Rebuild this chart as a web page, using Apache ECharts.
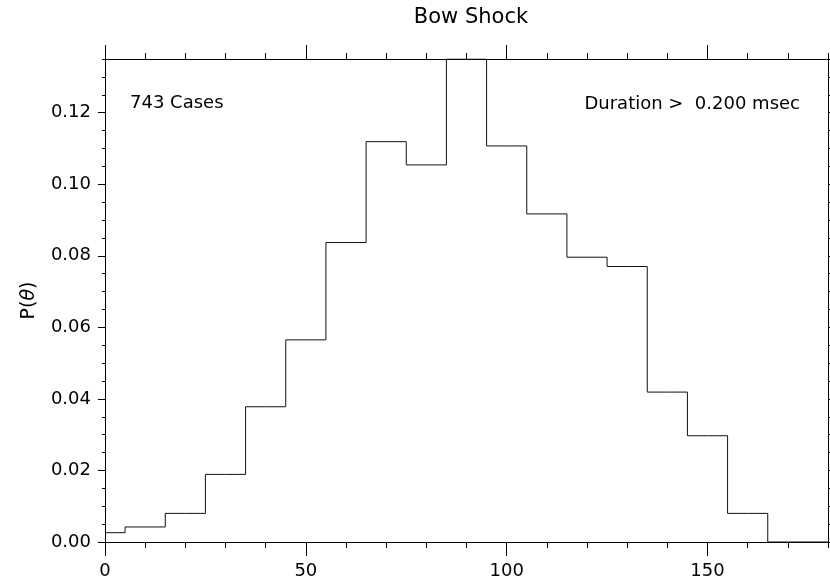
<!DOCTYPE html>
<html>
<head>
<meta charset="utf-8">
<script src="https://cdn.jsdelivr.net/npm/echarts@6/dist/echarts.min.js"></script>
<style>
  html, body { margin: 0; padding: 0; background: #fff; }
  #chart { width: 830px; height: 580px; }
</style>
</head>
<body>
<div id="chart"></div>
<script>
// bin centres (deg) and probability per bin
var angles = [0, 10, 20, 30, 40, 50, 60, 70, 80, 90, 100, 110, 120, 130, 140, 150, 160, 170, 180];
var probs = [0.0026, 0.0042, 0.0080, 0.0189, 0.0378, 0.0565, 0.0837, 0.1119, 0.1054, 0.1350,
             0.1107, 0.0917, 0.0796, 0.0770, 0.0419, 0.0297, 0.0080, 0, 0];
var xMajor = [0, 50, 100, 150];
var yMajor = [0, 0.02, 0.04, 0.06, 0.08, 0.10, 0.12];

var font = 'DejaVu Sans';
var line = { color: '#000', width: 1 };

function xAx(pos, major) {
  return {
    type: 'value', position: pos, min: 0, max: 180,
    interval: major ? 50 : 10,
    axisLine: { show: major, onZero: false, lineStyle: line },
    axisTick: major
      ? { show: true, inside: false, length: 14, lineStyle: line, customValues: xMajor }
      : { show: true, inside: false, length: 6, lineStyle: line },
    axisLabel: (major && pos == 'bottom')
      ? { show: true, margin: 20, color: '#000', fontFamily: font, fontSize: 18, customValues: xMajor }
      : { show: false },
    splitLine: { show: false }
  };
}

function yAx(pos, major) {
  return {
    type: 'value', position: pos, min: 0, max: 0.135,
    interval: major ? 0.02 : 0.005,
    axisLine: { show: major, onZero: false, lineStyle: line },
    axisTick: major
      ? { show: true, inside: false, length: 7, lineStyle: line, customValues: yMajor }
      : { show: true, inside: false, length: 3, lineStyle: line },
    axisLabel: (major && pos == 'left')
      ? { show: true, margin: 14, color: '#000', fontFamily: font, fontSize: 18,
          customValues: yMajor, formatter: function (v) { return v.toFixed(2); } }
      : { show: false },
    splitLine: { show: false }
  };
}

var leftMajor = yAx('left', true);
leftMajor.name = 'P({i|θ})';
leftMajor.nameLocation = 'middle';
leftMajor.nameRotate = 90;
leftMajor.nameGap = 66;
leftMajor.nameTextStyle = {
  color: '#000', fontFamily: font, fontSize: 19,
  rich: { i: { fontStyle: 'italic', fontFamily: font, fontSize: 19, color: '#000' } }
};

var option = {
  animation: false,
  backgroundColor: '#fff',
  grid: { left: 105, right: 2, top: 59, bottom: 38 },
  xAxis: [xAx('bottom', false), xAx('bottom', true), xAx('top', false), xAx('top', true)],
  yAxis: [yAx('left', false), leftMajor, yAx('right', false), yAx('right', true)],
  series: [{
    type: 'line',
    step: 'middle',
    xAxisIndex: 0,
    yAxisIndex: 0,
    showSymbol: false,
    lineStyle: { color: '#111', width: 1 },
    data: angles.map(function (a, i) { return [a, probs[i]]; })
  }],
  graphic: [
    { type: 'text', style: { x: 471, y: 18, text: 'Bow Shock', font: '21px "DejaVu Sans"', fill: '#000', textAlign: 'center', textVerticalAlign: 'middle' } },
    { type: 'text', style: { x: 130, y: 103, text: '743 Cases', font: '18px "DejaVu Sans"', fill: '#000', textAlign: 'left', textVerticalAlign: 'middle' } },
    { type: 'text', style: { x: 800, y: 104, text: 'Duration >  0.200 msec', font: '18px "DejaVu Sans"', fill: '#000', textAlign: 'right', textVerticalAlign: 'middle' } }
  ]
};

echarts.init(document.getElementById('chart')).setOption(option);
</script>
</body>
</html>
